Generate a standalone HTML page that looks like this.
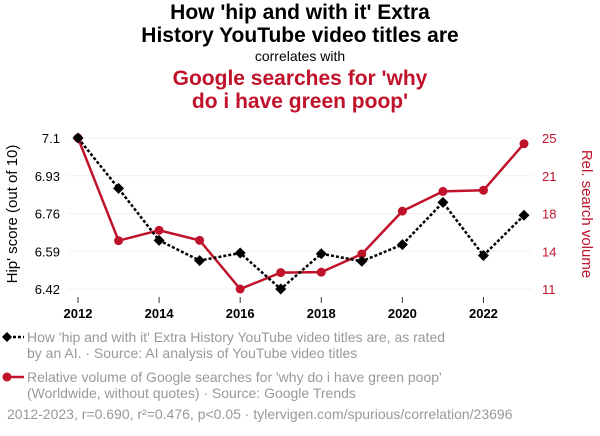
<!DOCTYPE html>
<html><head><meta charset="utf-8"><style>
body{margin:0;background:#fff;font-family:"Liberation Sans",sans-serif;}
#wrap{position:relative;width:600px;height:436px;overflow:hidden;}
.t{position:absolute;left:0;width:600px;text-align:center;}
</style></head><body><div id="wrap">
<div class="t" style="top:1px;font-size:21px;font-weight:bold;line-height:23px;color:#000">How 'hip and with it' Extra<br>History YouTube video titles are</div>
<div class="t" style="top:48px;font-size:14px;color:#000">correlates with</div>
<div class="t" style="top:67px;font-size:21px;font-weight:bold;line-height:23px;color:#c0132b">Google searches for 'why<br>do i have green poop'</div>
<svg id="svg" width="600" height="436" style="position:absolute;left:0;top:0"></svg>
</div>
<script>
const years=[2012,2013,2014,2015,2016,2017,2018,2019,2020,2021,2022,2023];
const hipScores=[7.1,6.873,6.639,6.548,6.582,6.42,6.579,6.545,6.62,6.81,6.571,6.752];
const searchVolume=[25,15.48,16.44,15.51,11,12.52,12.56,14.24,18.22,20.05,20.15,24.47];
const leftTicks=[7.1,6.93,6.76,6.59,6.42];
const rightTicks=[25,21,18,14,11];
const rightTickVals=[25,21.5,18,14.5,11];
const xTicks=[2012,2014,2016,2018,2020,2022];
const NS='http://www.w3.org/2000/svg';
const svg=document.getElementById('svg');
const X=y=>78+(y-2012)/11*446;
const YL=v=>138+(7.1-v)/0.68*151;
const YR=v=>138+(25-v)/14*151;
function el(tag,attrs,name,text){const e=document.createElementNS(NS,tag);for(const k in attrs)e.setAttribute(k,attrs[k]);


if(text!==undefined)e.textContent=text;svg.appendChild(e);return e;}
leftTicks.forEach(v=>{el('line',{x1:68,x2:532,y1:YL(v),y2:YL(v),stroke:'#f0f0f0','stroke-width':1},'gridline');
el('text',{x:60,y:YL(v)+5,'text-anchor':'end','font-size':13,fill:'#000','font-family':'Liberation Sans'},'left-tick-label',String(v));});
rightTicks.forEach((t,i)=>{el('text',{x:542,y:YR(rightTickVals[i])+5,'font-size':13,fill:'#c0132b','font-family':'Liberation Sans'},'right-tick-label',String(t));});
xTicks.forEach(y=>{el('line',{x1:X(y),x2:X(y),y1:297,y2:303,stroke:'#333'},'x-tick');
el('text',{x:X(y),y:318,'text-anchor':'middle','font-size':13,'font-weight':'bold',fill:'#000','font-family':'Liberation Sans'},'x-tick-label',String(y));});
el('text',{x:0,y:0,transform:'translate(17,214) rotate(-90)','text-anchor':'middle','font-size':15,fill:'#000','font-family':'Liberation Sans'},'y-axis-title-left',"Hip' score (out of 10)");
el('text',{x:0,y:0,transform:'translate(582,214) rotate(90)','text-anchor':'middle','font-size':15,fill:'#c0132b','font-family':'Liberation Sans'},'y-axis-title-right','Rel. search volume');
el('polyline',{points:years.map((y,i)=>X(y)+','+YR(searchVolume[i])).join(' '),fill:'none',stroke:'#c0132b','stroke-width':2.5},'search-line');
years.forEach((y,i)=>el('circle',{cx:X(y),cy:YR(searchVolume[i]),r:4.5,fill:'#c0132b'},'search-point'));
el('polyline',{points:years.map((y,i)=>X(y)+','+YL(hipScores[i])).join(' '),fill:'none',stroke:'#000','stroke-width':2.5,'stroke-dasharray':'3,2'},'hip-line');
years.forEach((y,i)=>{const cx=X(y),cy=YL(hipScores[i]);el('polygon',{points:`${cx},${cy-5.5} ${cx+5.5},${cy} ${cx},${cy+5.5} ${cx-5.5},${cy}`,fill:'#000'},'hip-point');});
el('line',{x1:3,x2:24,y1:337,y2:337,stroke:'#000','stroke-width':2.5,'stroke-dasharray':'3,2'},'legend-hip-line');
el('polygon',{points:'7,332 12,337 7,342 2,337',fill:'#000'},'legend-hip-marker');
el('line',{x1:3,x2:24,y1:377,y2:377,stroke:'#c0132b','stroke-width':2.5},'legend-search-line');
el('circle',{cx:7,cy:377,r:4.5,fill:'#c0132b'},'legend-search-marker');
const legendLines=[[342,"How 'hip and with it' Extra History YouTube video titles are, as rated"],[358,'by an AI. · Source: AI analysis of YouTube video titles'],[382,"Relative volume of Google searches for 'why do i have green poop'"],[398,'(Worldwide, without quotes) · Source: Google Trends'],[419,'2012-2023, r=0.690, r²=0.476, p<0.05 · tylervigen.com/spurious/correlation/23696']];
legendLines.forEach((l,i)=>el('text',{x:i==4?7:27,y:l[0],'font-size':14,fill:'#999','font-family':'Liberation Sans'},'legend-text',l[1]));
</script></body></html>
